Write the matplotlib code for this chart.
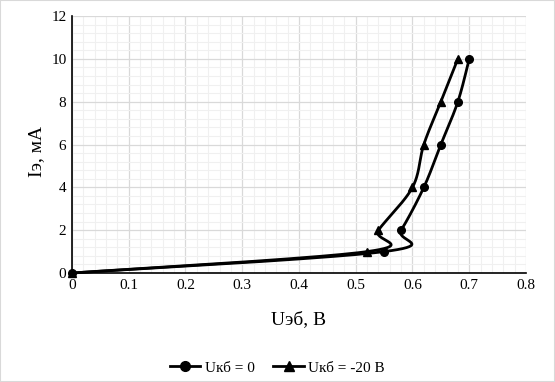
import numpy as np
import matplotlib
matplotlib.use("Agg")
import matplotlib.pyplot as plt
from matplotlib.ticker import MultipleLocator

plt.rcParams['font.family'] = ['Liberation Serif', 'DejaVu Serif']

# data
u_eb_0 = [0.0, 0.55, 0.58, 0.62, 0.65, 0.68, 0.70]
i_e_0 = [0, 1, 2, 4, 6, 8, 10]
u_eb_20 = [0.0, 0.52, 0.54, 0.60, 0.62, 0.65, 0.68]
i_e_20 = [0, 1, 2, 4, 6, 8, 10]
labels = ['Uкб = 0', 'Uкб = -20 В']


def smooth(ax, xs, ys, n=40):
    # excel-like smoothed line, computed in screen space
    pts = ax.transData.transform(np.column_stack([xs, ys]))
    p = np.vstack([pts[0], pts, pts[-1]])
    out = []
    for k in range(1, len(p) - 2):
        p0, p1, p2, p3 = p[k - 1], p[k], p[k + 1], p[k + 2]
        c1 = p1 + (p2 - p0) / 6
        c2 = p2 - (p3 - p1) / 6
        t = np.linspace(0, 1, n)[:, None]
        seg = ((1 - t) ** 3) * p1 + 3 * ((1 - t) ** 2) * t * c1 + 3 * (1 - t) * t ** 2 * c2 + t ** 3 * p2
        out.append(seg)
    out = np.vstack(out)
    return ax.transData.inverted().transform(out)


fig = plt.figure(figsize=(5.55, 3.82), dpi=100)
ax = fig.add_axes([0.1297, 0.2853, 0.8180, 0.6727])
ax.set_xlim(0, 0.8)
ax.set_ylim(0, 12)
ax.xaxis.set_major_locator(MultipleLocator(0.1))
ax.xaxis.set_minor_locator(MultipleLocator(0.02))
ax.yaxis.set_major_locator(MultipleLocator(2))
ax.yaxis.set_minor_locator(MultipleLocator(0.4))
ax.grid(which='major', color='#d9d9d9', lw=0.9)
ax.grid(which='minor', color='#f0f0f0', lw=0.8)
ax.set_axisbelow(True)
for s in ['top', 'right']:
    ax.spines[s].set_visible(False)
ax.spines['left'].set_linewidth(1.2)
ax.spines['bottom'].set_linewidth(1.2)
ax.tick_params(which='both', length=0, labelsize=11, pad=4)
ax.xaxis.set_major_formatter(plt.FuncFormatter(lambda v, _: '0' if v == 0 else f'{v:.1f}'))
ax.yaxis.set_major_formatter(plt.FuncFormatter(lambda v, _: f'{v:.0f}'))

fig.canvas.draw()
for xs, ys, m, lab in [(u_eb_0, i_e_0, 'o', labels[0]), (u_eb_20, i_e_20, '^', labels[1])]:
    c = smooth(ax, xs, ys)
    ax.plot(c[:, 0], c[:, 1], color='black', lw=2.0, solid_capstyle='round', clip_on=False)
    ax.plot(xs, ys, ls='none', marker=m, color='black', ms=5.5, clip_on=False)
    ax.plot([], [], color='black', lw=2.0, marker=m, ms=7, label=lab)

ax.set_xlabel('Uэб, В', fontsize=14, labelpad=14)
ax.set_ylabel('Iэ, мА', fontsize=14, labelpad=4.5)
ax.yaxis.label.set_y(0.475)
fig.legend(loc='center', bbox_to_anchor=(0.5, 0.037), ncol=2, frameon=False,
           fontsize=11, handlelength=2.0, columnspacing=1.2, handletextpad=0.3)

fig.patches.append(plt.Rectangle((0, 0), 1, 1, transform=fig.transFigure,
                                 fill=False, edgecolor='#d9d9d9', lw=1.5))
fig.savefig('out.png', dpi=100)
